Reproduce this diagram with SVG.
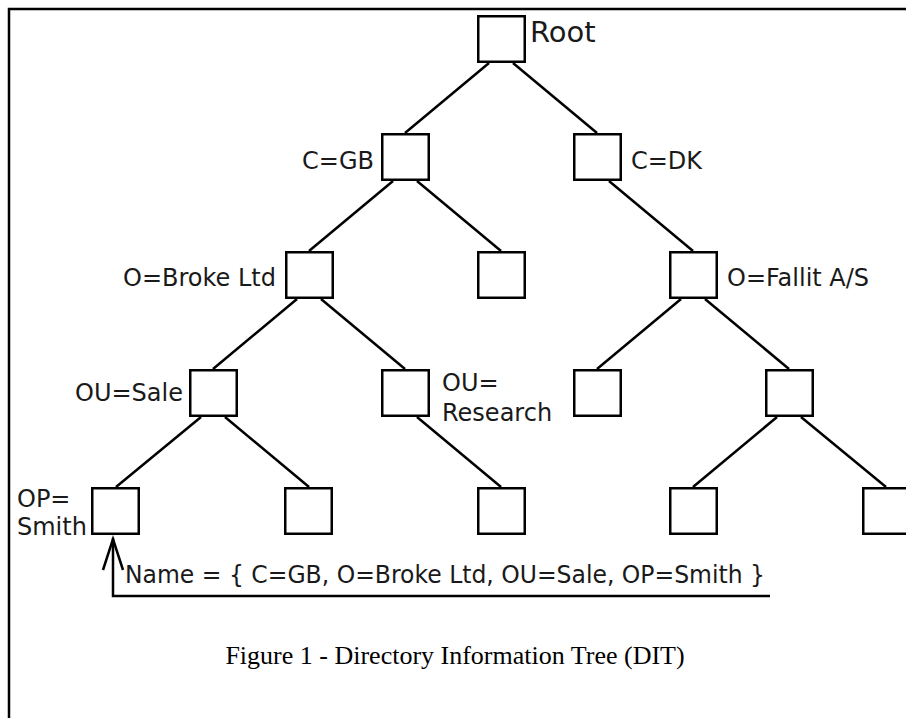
<svg xmlns="http://www.w3.org/2000/svg" width="906" height="718" viewBox="0 0 906 718">
  <style>
    .node rect { fill: #ffffff; stroke: #000000; stroke-width: 2.5; }
    .lbl { font-family: "DejaVu Sans", "Liberation Sans", sans-serif; font-size: 24px; fill: #1a1a1a; }
    .edges line, .edges path { stroke: #000000; stroke-width: 2.5; fill: none; }
    .caption { font-family: "Liberation Serif", "Times New Roman", serif; font-size: 26px; fill: #000000; }
  </style>

  <rect width="906" height="718" fill="#ffffff"/>
  <!-- frame: top and left rules only -->
  <path d="M9 718 V9 H906" fill="none" stroke="#000000" stroke-width="2.5"/>

  <!-- connectors -->
  <g class="edges">
    <!-- Root -->
    <line x1="489" y1="63" x2="405" y2="133"/>
    <line x1="513" y1="63" x2="597" y2="133"/>
    <!-- C=GB -->
    <line x1="393" y1="181" x2="309" y2="251"/>
    <line x1="417" y1="181" x2="501" y2="251"/>
    <!-- C=DK -->
    <line x1="609" y1="181" x2="693" y2="251"/>
    <!-- O=Broke Ltd -->
    <line x1="297" y1="299" x2="213" y2="369"/>
    <line x1="321" y1="299" x2="405" y2="369"/>
    <!-- O=Fallit A/S -->
    <line x1="681" y1="299" x2="597" y2="369"/>
    <line x1="705" y1="299" x2="789" y2="369"/>
    <!-- OU=Sale -->
    <line x1="201" y1="417" x2="116" y2="487"/>
    <line x1="225" y1="417" x2="309" y2="487"/>
    <!-- OU=Research -->
    <line x1="417" y1="417" x2="501" y2="487"/>
    <!-- right branch leaf parent -->
    <line x1="777" y1="417" x2="693" y2="487"/>
    <line x1="801" y1="417" x2="886" y2="487"/>
    <!-- name pointer -->
    <path d="M770 596 H113 V538"/>
    <path d="M103 570 L113 539 L123 570"/>
  </g>

  <!-- level 0 -->
  <g id="root" class="node">
    <rect x="478.25" y="16.25" width="46.5" height="45.5"/>
    <text class="lbl" x="530" y="42" style="font-size:29px">Root</text>
  </g>

  <!-- level 1 -->
  <g id="c-gb" class="node">
    <rect x="382.25" y="134.25" width="46.5" height="45.5"/>
    <text class="lbl" x="374" y="169" text-anchor="end">C=GB</text>
  </g>
  <g id="c-dk" class="node">
    <rect x="574.25" y="134.25" width="46.5" height="45.5"/>
    <text class="lbl" x="631" y="169">C=DK</text>
  </g>

  <!-- level 2 -->
  <g id="o-broke" class="node">
    <rect x="286.25" y="252.25" width="46.5" height="45.5"/>
    <text class="lbl" x="276" y="286" text-anchor="end">O=Broke Ltd</text>
  </g>
  <g id="gb-other" class="node">
    <rect x="478.25" y="252.25" width="46.5" height="45.5"/>
  </g>
  <g id="o-fallit" class="node">
    <rect x="670.25" y="252.25" width="46.5" height="45.5"/>
    <text class="lbl" x="727" y="286">O=Fallit A/S</text>
  </g>

  <!-- level 3 -->
  <g id="ou-sale" class="node">
    <rect x="190.25" y="370.25" width="46.5" height="45.5"/>
    <text class="lbl" x="183" y="401" text-anchor="end">OU=Sale</text>
  </g>
  <g id="ou-research" class="node">
    <rect x="382.25" y="370.25" width="46.5" height="45.5"/>
    <text class="lbl" x="442" y="391">OU=</text>
    <text class="lbl" x="442" y="421">Research</text>
  </g>
  <g id="dk-unit-a" class="node">
    <rect x="574.25" y="370.25" width="46.5" height="45.5"/>
  </g>
  <g id="dk-unit-b" class="node">
    <rect x="766.25" y="370.25" width="46.5" height="45.5"/>
  </g>

  <!-- level 4 -->
  <g id="op-smith" class="node">
    <rect x="92.25" y="488.25" width="46.5" height="45.5"/>
    <text class="lbl" x="17" y="507">OP=</text>
    <text class="lbl" x="17" y="535">Smith</text>
  </g>
  <g id="sale-leaf" class="node">
    <rect x="285.25" y="488.25" width="46.5" height="45.5"/>
  </g>
  <g id="research-leaf" class="node">
    <rect x="478.25" y="488.25" width="46.5" height="45.5"/>
  </g>
  <g id="dk-leaf-a" class="node">
    <rect x="670.25" y="488.25" width="46.5" height="45.5"/>
  </g>
  <g id="dk-leaf-b" class="node">
    <rect x="863.25" y="488.25" width="46.5" height="45.5"/>
  </g>

  <!-- distinguished name -->
  <text class="lbl" x="125" y="583" textLength="640" lengthAdjust="spacingAndGlyphs">Name = { C=GB, O=Broke Ltd, OU=Sale, OP=Smith }</text>

  <!-- caption -->
  <text class="caption" x="455" y="664" text-anchor="middle">Figure 1 - Directory Information Tree (DIT)</text>
</svg>
